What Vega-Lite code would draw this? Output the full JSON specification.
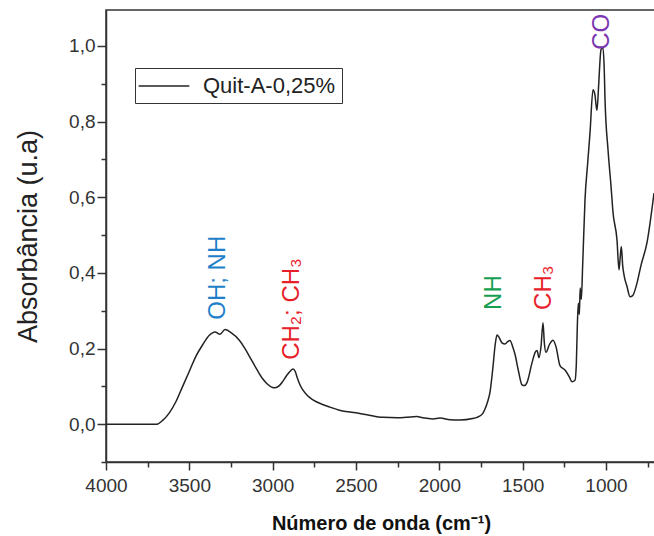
{
  "$schema": "https://vega.github.io/schema/vega-lite/v6.json",
  "autosize": {"type": "none"},
  "padding": {"left": 106, "top": 10, "right": 0, "bottom": 74},
  "width": 550,
  "height": 452,
  "background": "white",
  "config": {
    "font": "Liberation Sans",
    "view": {"stroke": "#333", "strokeWidth": 1.5},
    "axis": {"domainColor": "#333", "domainWidth": 1.5, "tickColor": "#333", "tickWidth": 1.5, "labelColor": "#333", "labelFont": "Liberation Sans", "titleFont": "Liberation Sans", "grid": false}
  },
  "resolve": {"scale": {"color": "independent"}, "legend": {"color": "independent"}},
  "layer": [
    {
      "data": {"values": [
        {"w": 4000, "a": 0.0, "s": "Quit-A-0,25%"},
        {"w": 3800, "a": 0.0, "s": "Quit-A-0,25%"},
        {"w": 3694, "a": 0.0, "s": "Quit-A-0,25%"},
        {"w": 3660, "a": 0.01, "s": "Quit-A-0,25%"},
        {"w": 3620, "a": 0.03, "s": "Quit-A-0,25%"},
        {"w": 3580, "a": 0.06, "s": "Quit-A-0,25%"},
        {"w": 3540, "a": 0.10, "s": "Quit-A-0,25%"},
        {"w": 3500, "a": 0.14, "s": "Quit-A-0,25%"},
        {"w": 3460, "a": 0.18, "s": "Quit-A-0,25%"},
        {"w": 3420, "a": 0.21, "s": "Quit-A-0,25%"},
        {"w": 3380, "a": 0.235, "s": "Quit-A-0,25%"},
        {"w": 3346, "a": 0.244, "s": "Quit-A-0,25%"},
        {"w": 3316, "a": 0.238, "s": "Quit-A-0,25%"},
        {"w": 3286, "a": 0.25, "s": "Quit-A-0,25%"},
        {"w": 3250, "a": 0.242, "s": "Quit-A-0,25%"},
        {"w": 3200, "a": 0.222, "s": "Quit-A-0,25%"},
        {"w": 3166, "a": 0.2, "s": "Quit-A-0,25%"},
        {"w": 3130, "a": 0.172, "s": "Quit-A-0,25%"},
        {"w": 3094, "a": 0.144, "s": "Quit-A-0,25%"},
        {"w": 3060, "a": 0.12, "s": "Quit-A-0,25%"},
        {"w": 3034, "a": 0.107, "s": "Quit-A-0,25%"},
        {"w": 3000, "a": 0.097, "s": "Quit-A-0,25%"},
        {"w": 2986, "a": 0.096, "s": "Quit-A-0,25%"},
        {"w": 2960, "a": 0.102, "s": "Quit-A-0,25%"},
        {"w": 2944, "a": 0.11, "s": "Quit-A-0,25%"},
        {"w": 2914, "a": 0.13, "s": "Quit-A-0,25%"},
        {"w": 2895, "a": 0.14, "s": "Quit-A-0,25%"},
        {"w": 2878, "a": 0.146, "s": "Quit-A-0,25%"},
        {"w": 2865, "a": 0.14, "s": "Quit-A-0,25%"},
        {"w": 2854, "a": 0.125, "s": "Quit-A-0,25%"},
        {"w": 2835, "a": 0.103, "s": "Quit-A-0,25%"},
        {"w": 2818, "a": 0.09, "s": "Quit-A-0,25%"},
        {"w": 2790, "a": 0.075, "s": "Quit-A-0,25%"},
        {"w": 2758, "a": 0.064, "s": "Quit-A-0,25%"},
        {"w": 2700, "a": 0.052, "s": "Quit-A-0,25%"},
        {"w": 2656, "a": 0.045, "s": "Quit-A-0,25%"},
        {"w": 2600, "a": 0.037, "s": "Quit-A-0,25%"},
        {"w": 2500, "a": 0.03, "s": "Quit-A-0,25%"},
        {"w": 2434, "a": 0.025, "s": "Quit-A-0,25%"},
        {"w": 2338, "a": 0.018, "s": "Quit-A-0,25%"},
        {"w": 2250, "a": 0.017, "s": "Quit-A-0,25%"},
        {"w": 2200, "a": 0.018, "s": "Quit-A-0,25%"},
        {"w": 2134, "a": 0.02, "s": "Quit-A-0,25%"},
        {"w": 2100, "a": 0.017, "s": "Quit-A-0,25%"},
        {"w": 2038, "a": 0.014, "s": "Quit-A-0,25%"},
        {"w": 1996, "a": 0.016, "s": "Quit-A-0,25%"},
        {"w": 1936, "a": 0.012, "s": "Quit-A-0,25%"},
        {"w": 1876, "a": 0.011, "s": "Quit-A-0,25%"},
        {"w": 1800, "a": 0.015, "s": "Quit-A-0,25%"},
        {"w": 1774, "a": 0.018, "s": "Quit-A-0,25%"},
        {"w": 1740, "a": 0.028, "s": "Quit-A-0,25%"},
        {"w": 1726, "a": 0.04, "s": "Quit-A-0,25%"},
        {"w": 1710, "a": 0.06, "s": "Quit-A-0,25%"},
        {"w": 1696, "a": 0.085, "s": "Quit-A-0,25%"},
        {"w": 1678, "a": 0.152, "s": "Quit-A-0,25%"},
        {"w": 1665, "a": 0.21, "s": "Quit-A-0,25%"},
        {"w": 1654, "a": 0.236, "s": "Quit-A-0,25%"},
        {"w": 1640, "a": 0.228, "s": "Quit-A-0,25%"},
        {"w": 1624, "a": 0.215, "s": "Quit-A-0,25%"},
        {"w": 1606, "a": 0.212, "s": "Quit-A-0,25%"},
        {"w": 1590, "a": 0.218, "s": "Quit-A-0,25%"},
        {"w": 1576, "a": 0.221, "s": "Quit-A-0,25%"},
        {"w": 1560, "a": 0.205, "s": "Quit-A-0,25%"},
        {"w": 1546, "a": 0.185, "s": "Quit-A-0,25%"},
        {"w": 1525, "a": 0.14, "s": "Quit-A-0,25%"},
        {"w": 1504, "a": 0.104, "s": "Quit-A-0,25%"},
        {"w": 1490, "a": 0.102, "s": "Quit-A-0,25%"},
        {"w": 1474, "a": 0.11, "s": "Quit-A-0,25%"},
        {"w": 1444, "a": 0.162, "s": "Quit-A-0,25%"},
        {"w": 1425, "a": 0.19, "s": "Quit-A-0,25%"},
        {"w": 1414, "a": 0.195, "s": "Quit-A-0,25%"},
        {"w": 1402, "a": 0.176, "s": "Quit-A-0,25%"},
        {"w": 1390, "a": 0.205, "s": "Quit-A-0,25%"},
        {"w": 1378, "a": 0.268, "s": "Quit-A-0,25%"},
        {"w": 1370, "a": 0.215, "s": "Quit-A-0,25%"},
        {"w": 1360, "a": 0.19, "s": "Quit-A-0,25%"},
        {"w": 1340, "a": 0.21, "s": "Quit-A-0,25%"},
        {"w": 1318, "a": 0.222, "s": "Quit-A-0,25%"},
        {"w": 1300, "a": 0.205, "s": "Quit-A-0,25%"},
        {"w": 1276, "a": 0.155, "s": "Quit-A-0,25%"},
        {"w": 1246, "a": 0.143, "s": "Quit-A-0,25%"},
        {"w": 1220, "a": 0.125, "s": "Quit-A-0,25%"},
        {"w": 1204, "a": 0.112, "s": "Quit-A-0,25%"},
        {"w": 1186, "a": 0.116, "s": "Quit-A-0,25%"},
        {"w": 1178, "a": 0.16, "s": "Quit-A-0,25%"},
        {"w": 1172, "a": 0.26, "s": "Quit-A-0,25%"},
        {"w": 1166, "a": 0.32, "s": "Quit-A-0,25%"},
        {"w": 1160, "a": 0.29, "s": "Quit-A-0,25%"},
        {"w": 1155, "a": 0.36, "s": "Quit-A-0,25%"},
        {"w": 1148, "a": 0.33, "s": "Quit-A-0,25%"},
        {"w": 1140, "a": 0.42, "s": "Quit-A-0,25%"},
        {"w": 1126, "a": 0.593, "s": "Quit-A-0,25%"},
        {"w": 1110, "a": 0.69, "s": "Quit-A-0,25%"},
        {"w": 1096, "a": 0.77, "s": "Quit-A-0,25%"},
        {"w": 1078, "a": 0.884, "s": "Quit-A-0,25%"},
        {"w": 1066, "a": 0.87, "s": "Quit-A-0,25%"},
        {"w": 1060, "a": 0.845, "s": "Quit-A-0,25%"},
        {"w": 1054, "a": 0.83, "s": "Quit-A-0,25%"},
        {"w": 1046, "a": 0.88, "s": "Quit-A-0,25%"},
        {"w": 1040, "a": 0.93, "s": "Quit-A-0,25%"},
        {"w": 1030, "a": 0.99, "s": "Quit-A-0,25%"},
        {"w": 1018, "a": 0.995, "s": "Quit-A-0,25%"},
        {"w": 1010, "a": 0.93, "s": "Quit-A-0,25%"},
        {"w": 1006, "a": 0.86, "s": "Quit-A-0,25%"},
        {"w": 988, "a": 0.726, "s": "Quit-A-0,25%"},
        {"w": 970, "a": 0.63, "s": "Quit-A-0,25%"},
        {"w": 958, "a": 0.56, "s": "Quit-A-0,25%"},
        {"w": 934, "a": 0.487, "s": "Quit-A-0,25%"},
        {"w": 922, "a": 0.408, "s": "Quit-A-0,25%"},
        {"w": 915, "a": 0.44, "s": "Quit-A-0,25%"},
        {"w": 908, "a": 0.47, "s": "Quit-A-0,25%"},
        {"w": 900, "a": 0.42, "s": "Quit-A-0,25%"},
        {"w": 890, "a": 0.39, "s": "Quit-A-0,25%"},
        {"w": 874, "a": 0.364, "s": "Quit-A-0,25%"},
        {"w": 856, "a": 0.337, "s": "Quit-A-0,25%"},
        {"w": 840, "a": 0.34, "s": "Quit-A-0,25%"},
        {"w": 814, "a": 0.373, "s": "Quit-A-0,25%"},
        {"w": 790, "a": 0.42, "s": "Quit-A-0,25%"},
        {"w": 754, "a": 0.48, "s": "Quit-A-0,25%"},
        {"w": 712, "a": 0.611, "s": "Quit-A-0,25%"}
      ]},
      "mark": {"type": "line", "strokeWidth": 1.5, "clip": true, "interpolate": "monotone"},
      "encoding": {
        "x": {
          "field": "w", "type": "quantitative",
          "scale": {"domain": [700, 4000], "reverse": true, "nice": false, "zero": false},
          "axis": {
            "title": "Número de onda (cm⁻¹)",
            "titleFontSize": 20, "titleFontWeight": "bold", "titleColor": "#111",
            "titleY": 61, "titleBaseline": "middle",
            "values": [4000, 3750, 3500, 3250, 3000, 2750, 2500, 2250, 2000, 1750, 1500, 1250, 1000, 750],
            "labelExpr": "datum.value % 500 == 0 ? format(datum.value, 'd') : ''",
            "labelFontSize": 19, "labelPadding": 6, "labelFlush": false, "labelOverlap": false,
            "tickSize": {"condition": {"test": "datum.value % 500 == 0", "value": 8}, "value": 5}
          }
        },
        "y": {
          "field": "a", "type": "quantitative",
          "scale": {"domain": [-0.1, 1.095], "nice": false, "zero": false},
          "axis": {
            "title": "Absorbância (u.a)",
            "titleFontSize": 27, "titleFontWeight": "normal", "titleColor": "#222",
            "titleX": -78, "titleBaseline": "middle",
            "values": [-0.1, 0, 0.1, 0.2, 0.3, 0.4, 0.5, 0.6, 0.7, 0.8, 0.9, 1.0],
            "labelExpr": "(abs(round(datum.value * 10)) % 2 == 0 && datum.value > -0.05) ? replace(format(datum.value, '.1f'), '.', ',') : ''",
            "labelFontSize": 19, "labelPadding": 2, "labelFlush": false, "labelOverlap": false,
            "tickSize": {"condition": {"test": "abs(round(datum.value * 10)) % 2 == 0", "value": 9}, "value": 5}
          }
        },
        "color": {
          "field": "s", "type": "nominal",
          "scale": {"range": ["#222222"]},
          "legend": {
            "orient": "none", "legendX": 29, "legendY": 58, "title": null,
            "symbolType": "M-2.3,0H2.3", "symbolSize": 484, "symbolStrokeWidth": 1.5, "symbolOffset": 11,
            "labelFontSize": 22, "labelColor": "#222", "labelLimit": 300, "labelOffset": 27,
            "strokeColor": "#333", "fillColor": "white", "padding": 6
          }
        }
      }
    },
    {
      "data": {"values": [
        {"w": 3328, "a": 0.276, "t": "OH; NH", "g": "oh"},
        {"w": 2884, "a": 0.17, "t": "CH₂; CH₃", "g": "ch"},
        {"w": 1672, "a": 0.302, "t": "NH", "g": "nh"},
        {"w": 1372, "a": 0.302, "t": "CH₃", "g": "ch"},
        {"w": 1024, "a": 0.99, "t": "CO", "g": "co"}
      ]},
      "mark": {"type": "text", "angle": 270, "align": "left", "baseline": "middle", "fontSize": 24, "font": "Liberation Sans"},
      "encoding": {
        "x": {"field": "w", "type": "quantitative"},
        "y": {"field": "a", "type": "quantitative"},
        "text": {"field": "t"},
        "color": {
          "field": "g", "type": "nominal",
          "scale": {"domain": ["oh", "ch", "nh", "co"], "range": ["#1f7fc8", "#e8202a", "#14a050", "#7a35b0"]},
          "legend": null
        }
      }
    }
  ]
}
